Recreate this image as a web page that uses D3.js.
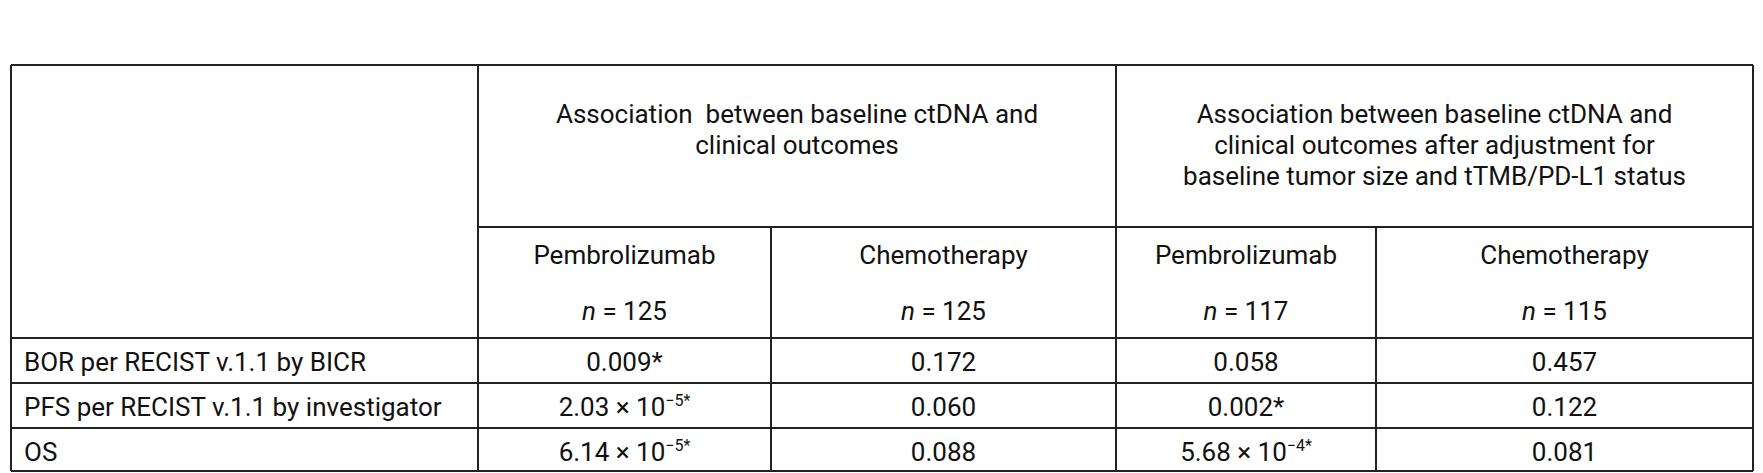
<!DOCTYPE html>
<html><head><meta charset="utf-8">
<script src="https://cdn.jsdelivr.net/npm/d3@7"></script>
<style>body{margin:0;background:#fff}text{font-family:Roboto,"Noto Sans",sans-serif;fill:#111;white-space:pre}</style>
</head><body><div id="tbl"></div>
<script>
// data
const groups = [
  ["Association  between baseline ctDNA and", "clinical outcomes"],
  ["Association between baseline ctDNA and", "clinical outcomes after adjustment for", "baseline tumor size and tTMB/PD-L1 status"]
];
const arms = ["Pembrolizumab", "Chemotherapy", "Pembrolizumab", "Chemotherapy"];
const nValues = [125, 125, 117, 115];
const outcomes = ["BOR per RECIST v.1.1 by BICR", "PFS per RECIST v.1.1 by investigator", "OS"];
// [mantissa, exponent or null, significant]
const pValues = [
  [["0.009", null, true], ["0.172", null, false], ["0.058", null, false], ["0.457", null, false]],
  [["2.03", -5, true], ["0.060", null, false], ["0.002", null, true], ["0.122", null, false]],
  [["6.14", -5, true], ["0.088", null, false], ["5.68", -4, true], ["0.081", null, false]]
];

const W = 1763, H = 473;
const svg = d3.select("#tbl").append("svg").attr("width", W).attr("height", H);

// column edges: label col + 4 arms
const colEdges = [11, 478, 771, 1116, 1376, 1753];
const x = i => colEdges[i];
const y = d3.scaleOrdinal().domain(["top", "split", "head", "r1", "r2", "bot"])
  .range([65, 227, 338, 383, 428, 471]);

const g = svg.append("g").attr("stroke", "#222").attr("stroke-width", 2);
const hl = (y0, x0, x1) => g.append("line").attr("x1", x0).attr("x2", x1).attr("y1", y0).attr("y2", y0);
const vl = (x0, y0, y1) => g.append("line").attr("x1", x0).attr("x2", x0).attr("y1", y0).attr("y2", y1);
hl(y("top"), x(0), x(5));
hl(y("split"), x(1), x(5));
["head", "r1", "r2", "bot"].forEach(k => hl(y(k), x(0), x(5)));
vl(x(0), y("top"), y("bot")); vl(x(5), y("top"), y("bot"));
vl(x(1), y("top"), y("bot")); vl(x(3), y("top"), y("bot"));
vl(x(2), y("split"), y("bot")); vl(x(4), y("split"), y("bot"));

const fs = 26;
const T = svg.append("g").attr("font-size", fs);
const cx = i => (x(i + 1) + x(i + 2)) / 2;

groups.forEach((lines, gi) => {
  const c = (x(1 + gi * 2) + x(3 + gi * 2)) / 2;
  lines.forEach((l, li) => T.append("text").attr("x", c).attr("y", 123 + li * 31)
    .attr("text-anchor", "middle").text(l));
});
arms.forEach((a, i) => {
  T.append("text").attr("x", cx(i)).attr("y", 264).attr("text-anchor", "middle").text(a);
  const t = T.append("text").attr("x", cx(i)).attr("y", 320).attr("text-anchor", "middle");
  t.append("tspan").attr("font-style", "italic").text("n");
  t.append("tspan").text(" = " + nValues[i]);
});
const rowY = [371, 416, 461];
outcomes.forEach((o, r) => {
  T.append("text").attr("x", x(0) + 13).attr("y", rowY[r]).text(o);
  pValues[r].forEach((p, i) => {
    const t = T.append("text").attr("x", cx(i)).attr("y", rowY[r]).attr("text-anchor", "middle");
    if (p[1] === null) {
      t.append("tspan").text(p[0] + (p[2] ? "*" : ""));
    } else {
      t.append("tspan").text(p[0] + " × 10");
      t.append("tspan").attr("dy", -10).attr("font-size", 16).text("−" + (-p[1]) + (p[2] ? "*" : ""));
    }
  });
});
</script></body></html>
